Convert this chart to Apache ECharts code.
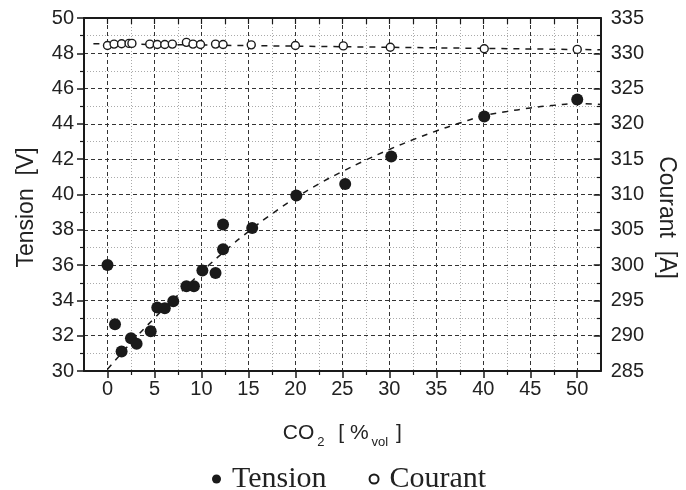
<!DOCTYPE html>
<html><head><meta charset="utf-8">
<script src="https://cdn.jsdelivr.net/npm/echarts@6/dist/echarts.min.js"></script>
<style>html,body{margin:0;padding:0;background:#fff}#c{width:686px;height:490px}</style>
</head><body><div id="c"></div>
<script>
// ---- data ----
const co2Tension = [0, 0.8, 1.5, 2.5, 3.1, 4.6, 5.3, 6.1, 7.0, 8.4, 9.2, 10.1, 11.5, 12.3, 12.3, 15.4, 20.1, 25.3, 30.2, 40.1, 50.0];
const tension    = [36.0, 32.65, 31.1, 31.85, 31.55, 32.25, 33.6, 33.55, 33.95, 34.8, 34.8, 35.7, 35.55, 36.9, 38.3, 38.1, 39.95, 40.6, 42.15, 44.42, 45.38];
const co2Courant = [0, 0.7, 1.5, 2.3, 2.6, 4.5, 5.3, 6.1, 6.9, 8.4, 9.1, 9.9, 11.5, 12.3, 15.3, 20.0, 25.1, 30.1, 40.1, 50.0];
const courant    = [331.1, 331.3, 331.35, 331.4, 331.4, 331.3, 331.25, 331.25, 331.3, 331.55, 331.3, 331.25, 331.3, 331.25, 331.2, 331.1, 331.05, 330.85, 330.65, 330.55];
const fitTensionX = [0, 2.5, 5, 7.5, 10, 12.5, 15, 17.5, 20, 22.5, 25, 27.5, 30, 32.5, 35, 37.5, 40, 42.5, 45, 47.5, 50, 52.5];
const fitTensionY = [30.1, 31.6, 33.0, 34.3, 35.6, 36.8, 37.9, 38.9, 39.8, 40.6, 41.3, 41.95, 42.55, 43.1, 43.6, 44.05, 44.45, 44.7, 44.9, 45.05, 45.15, 45.1];
const fitCourantX = [-1.5, 52.5];
const fitCourantY = [331.35, 330.5];
const xMajorTicks = [0, 5, 10, 15, 20, 25, 30, 35, 40, 45, 50];
const xMinorTicks = [2.5, 7.5, 12.5, 17.5, 22.5, 27.5, 32.5, 37.5, 42.5, 47.5];
const xAllTicks = [0, 2.5, 5, 7.5, 10, 12.5, 15, 17.5, 20, 22.5, 25, 27.5, 30, 32.5, 35, 37.5, 40, 42.5, 45, 47.5, 50];

const zip = (a, b) => a.map((v, i) => [v, b[i]]);
const INK = '#1a1a1a';
const SANS = 'Liberation Sans, Arial, sans-serif';
const SERIF = 'Liberation Serif, Times New Roman, serif';

const chart = echarts.init(document.getElementById('c'), null, {renderer: 'canvas'});
chart.setOption({
  animation: false,
  backgroundColor: '#fff',
  grid: {left: 84, right: 75, top: 18, bottom: 119, containLabel: false},
  legend: {
    data: ['Tension', 'Courant'],
    left: 207, top: 459,
    itemWidth: 9, itemHeight: 9, itemGap: 42,
    textStyle: {fontFamily: SERIF, fontSize: 30, color: '#222', padding: [0, 0, 0, 6]}
  },
  xAxis: [
    {
      type: 'value', position: 'bottom', min: -2.5, max: 52.5,
      name: '{a|CO}{s|2}{a|  [ %}{s|vol}{a| ]}',
      nameLocation: 'middle', nameGap: 46,
      nameTextStyle: {
        rich: {
          a: {fontFamily: SANS, fontSize: 21, color: '#222'},
          s: {fontFamily: SANS, fontSize: 13, color: '#222', padding: [19, 2, 0, 3]}
        }
      },
      axisLine: {show: true, onZero: false, lineStyle: {color: INK, width: 2}},
      axisTick: {show: true, inside: false, length: 7, customValues: xMajorTicks, lineStyle: {color: INK, width: 1.5}},
      axisLabel: {show: true, customValues: xMajorTicks, margin: 8, fontFamily: SANS, fontSize: 20, color: '#222'},
      splitLine: {show: true, lineStyle: {color: '#333', width: 1, type: [4, 3]}}
    },
    {
      type: 'value', position: 'bottom', min: -2.5, max: 52.5,
      axisLine: {show: false},
      axisTick: {show: true, inside: false, length: 4, customValues: xMinorTicks, lineStyle: {color: INK, width: 1.2}},
      axisLabel: {show: false},
      splitLine: {show: true, lineStyle: {color: '#aaa', width: 1, type: [1, 2]}}
    },
    {
      type: 'value', position: 'top', min: -2.5, max: 52.5,
      axisLine: {show: true, onZero: false, lineStyle: {color: INK, width: 2}},
      axisTick: {show: true, inside: true, length: 6, customValues: xAllTicks, lineStyle: {color: INK, width: 1.2}},
      axisLabel: {show: false},
      splitLine: {show: false}
    }
  ],
  yAxis: [
    {
      type: 'value', position: 'left', min: 30, max: 50, interval: 2,
      name: 'Tension  [V]', nameLocation: 'middle', nameGap: 46, nameRotate: 90,
      nameTextStyle: {fontFamily: SANS, fontSize: 23, color: '#222', padding: [0, 26, 0, 0]},
      axisLine: {show: true, onZero: false, lineStyle: {color: INK, width: 2}},
      axisTick: {show: true, inside: false, length: 7, lineStyle: {color: INK, width: 1.5}},
      minorTick: {show: true, splitNumber: 2, length: 4, lineStyle: {color: INK, width: 1.2}},
      axisLabel: {margin: 10, fontFamily: SANS, fontSize: 20, color: '#222'},
      splitLine: {show: true, lineStyle: {color: '#333', width: 1, type: [4, 3]}},
      minorSplitLine: {show: true, lineStyle: {color: '#aaa', width: 1, type: [1, 2]}}
    },
    {
      type: 'value', position: 'right', min: 285, max: 335, interval: 5, alignTicks: false,
      name: 'Courant  [A]', nameLocation: 'middle', nameGap: 54, nameRotate: -90,
      nameTextStyle: {fontFamily: SANS, fontSize: 23, color: '#222', padding: [0, 0, 0, 46]},
      axisLine: {show: true, onZero: false, lineStyle: {color: INK, width: 2}},
      axisTick: {show: true, inside: true, length: 7, lineStyle: {color: INK, width: 1.5}},
      minorTick: {show: true, splitNumber: 2, length: 4, lineStyle: {color: INK, width: 1.2}},
      axisLabel: {margin: 10, fontFamily: SANS, fontSize: 20, color: '#222'},
      splitLine: {show: false},
      minorSplitLine: {show: false}
    }
  ],
  series: [
    {
      name: 'TensionFit', type: 'line', xAxisIndex: 0, yAxisIndex: 0,
      data: zip(fitTensionX, fitTensionY), smooth: true, showSymbol: false, symbol: 'none',
      lineStyle: {color: INK, width: 1.5, type: [6, 6]}, z: 3, silent: true
    },
    {
      name: 'CourantFit', type: 'line', xAxisIndex: 0, yAxisIndex: 1,
      data: zip(fitCourantX, fitCourantY), showSymbol: false, symbol: 'none',
      lineStyle: {color: INK, width: 1.5, type: [6, 6]}, z: 3, silent: true
    },
    {
      name: 'Tension', type: 'scatter', xAxisIndex: 0, yAxisIndex: 0,
      data: zip(co2Tension, tension), symbol: 'circle', symbolSize: 12,
      itemStyle: {color: INK, opacity: 1}, z: 5
    },
    {
      name: 'Courant', type: 'scatter', xAxisIndex: 0, yAxisIndex: 1,
      data: zip(co2Courant, courant), symbol: 'circle', symbolSize: 8,
      itemStyle: {color: '#fff', borderColor: INK, borderWidth: 1.4, opacity: 1}, z: 5
    }
  ]
});
</script>
</body></html>
